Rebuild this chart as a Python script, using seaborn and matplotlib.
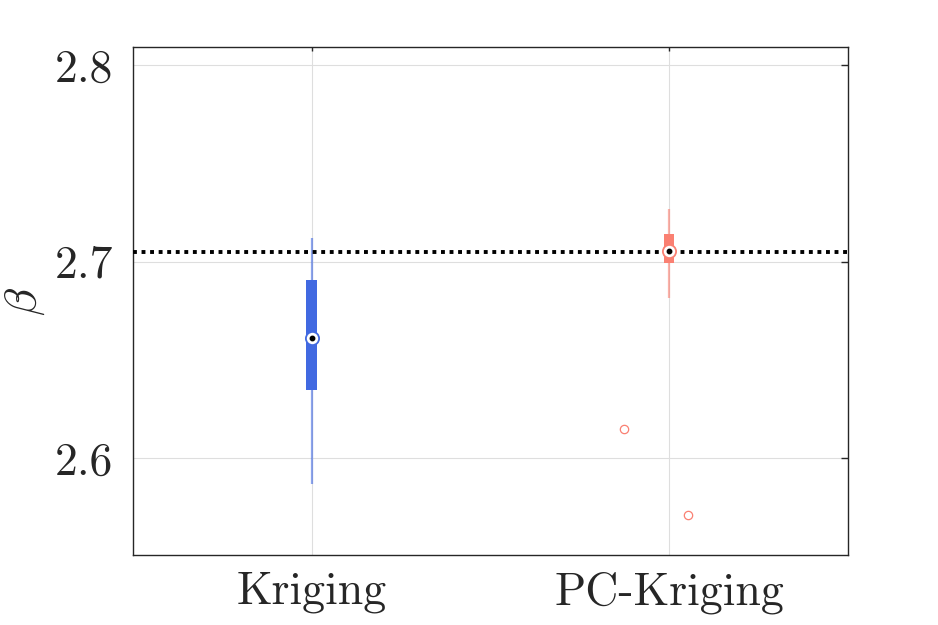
import numpy as np
import pandas as pd
import matplotlib
matplotlib.use('Agg')
import matplotlib.pyplot as plt
import seaborn as sns

# box summary values: whisker low, q1, median, q3, whisker high
methods = ['Kriging', 'PC-Kriging']
kriging_beta = [2.5868, 2.6344, 2.6613, 2.6908, 2.7122]
pck_beta = [2.6815, 2.6993, 2.7052, 2.7141, 2.7265]

# outliers of PC-Kriging (value, horizontal jitter as drawn)
pck_outliers = [2.6148, 2.5710]
pck_jitter = [-0.126, 0.053]

beta_ref = 2.7048

colors = ['#4169E1', '#FA8072']

df = pd.DataFrame({
    'method': [methods[0]] * len(kriging_beta) + [methods[1]] * len(pck_beta),
    'beta': kriging_beta + pck_beta,
})

sns.set_theme(style='white')
plt.rcParams['font.family'] = ['cmr10', 'DejaVu Serif']
plt.rcParams['mathtext.fontset'] = 'cm'
plt.rcParams['axes.formatter.use_mathtext'] = True

fig = plt.figure(figsize=(9.38, 6.25), dpi=100)
ax = fig.add_axes([0.1418, 0.112, 0.762, 0.8128])

sns.boxplot(data=df, x='method', y='beta', hue='method', palette=colors,
            order=methods, hue_order=methods, legend=False, saturation=1,
            width=0.03, whis=(0, 100), showfliers=False, showcaps=False,
            boxprops=dict(linewidth=0), medianprops=dict(linewidth=0),
            whiskerprops=dict(linewidth=1.6), ax=ax)

# whiskers in lighter tone of the box colour
for cont, c in zip(ax.containers, colors):
    for w in cont.whiskers:
        w.set_color(c)
        w.set_alpha(0.6)
    for b in cont.boxes:
        b.set_facecolor(c)
        b.set_edgecolor(c)

# reference value
ax.axhline(beta_ref, color='black', linestyle=(0, (1, 1.2)), linewidth=2.8, zorder=3)

# median markers
med = df.groupby('method')['beta'].median().reindex(methods)
for i, (m, c) in enumerate(zip(med.values, colors)):
    ax.plot(i, m, 'o', markersize=9.5, markerfacecolor='white',
            markeredgecolor=c, markeredgewidth=1.3, zorder=4)
    ax.plot(i, m, 'o', markersize=3.2, color='black', zorder=5)

# outliers
ax.plot(1 + np.array(pck_jitter), pck_outliers, 'o', markersize=6,
        markerfacecolor='none', markeredgecolor=colors[1], markeredgewidth=0.9)

ax.set_xlim(-0.5, 1.5)
ax.set_ylim(2.5506, 2.8092)
ax.set_yticks([2.6, 2.7, 2.8])
ax.set_yticklabels(['2.6', '2.7', '2.8'])
ax.set_xlabel('')
ax.set_ylabel(r'$\beta$', fontsize=33, color='#262626', labelpad=6)

ax.grid(True, color='#dedede', linewidth=0.8)
ax.set_axisbelow(True)
for s in ax.spines.values():
    s.set_visible(True)
    s.set_color('#262626')
    s.set_linewidth(1.0)
ax.tick_params(axis='both', direction='in', top=True, right=True,
               colors='#262626', labelsize=33, width=1.0)
ax.tick_params(axis='y', length=5, pad=14)
ax.tick_params(axis='x', length=3, pad=12)

fig.savefig('out.png', dpi=100, facecolor='white')
